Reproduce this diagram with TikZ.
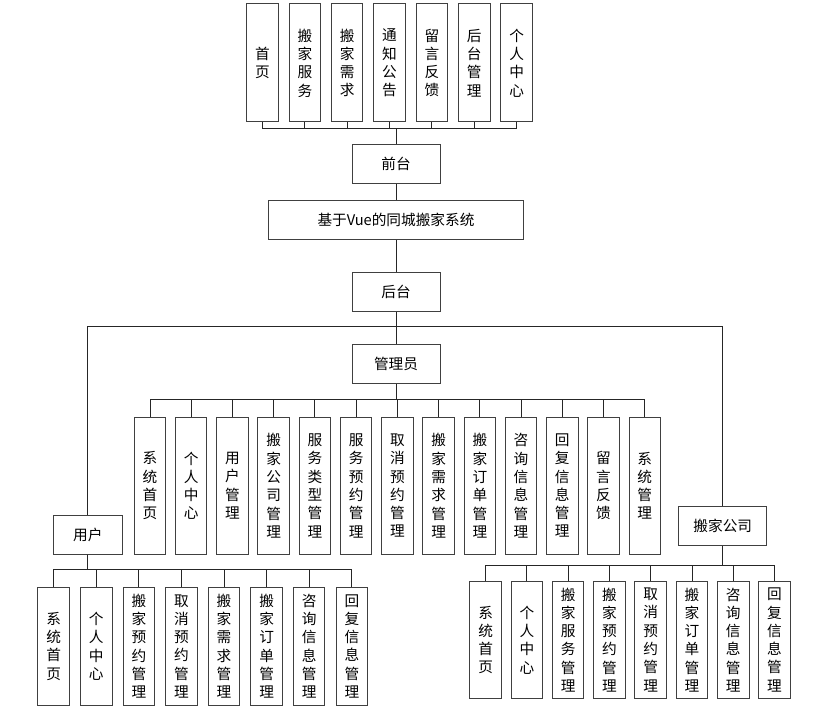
\documentclass[tikz,border=0pt]{standalone}
\usepackage{fontspec}
\newfontfamily\cjk{Noto Sans CJK SC}
\begin{document}
\begin{tikzpicture}[x=0.75pt,y=-0.75pt,
  every node/.style={font=\cjk\fontsize{11}{13.7}\selectfont, inner sep=0pt, align=center},
  hbox/.style={draw=black!75, line width=0.75pt, fill=white, minimum width=88*0.75pt, minimum height=39.3*0.75pt},
  tbox/.style={draw=black!75, line width=0.75pt, fill=white, minimum width=31.5*0.75pt, minimum height=118*0.75pt},
  abox/.style={draw=black!75, line width=0.75pt, fill=white, minimum width=31.5*0.75pt, minimum height=137*0.75pt},
  ubox/.style={draw=black!75, line width=0.75pt, fill=white, minimum width=31.5*0.75pt, minimum height=117.7*0.75pt},
  link/.style={draw=black!85, line width=0.75pt}]
\useasboundingbox (0,0) rectangle (829,713);

% top level
\node[hbox] (qt) at (396,164) {前台};
\node[draw=black!75, line width=0.75pt, minimum width=255.7*0.75pt, minimum height=39.3*0.75pt] (sys) at (396,220.3) {基于Vue的同城搬家系统};
\node[hbox] (ht) at (396,292.2) {后台};
\node[hbox] (gly) at (396,364.3) {管理员};
\node[hbox, minimum width=69*0.75pt] (yh) at (87.8,534.8) {用户};
\node[hbox, minimum width=88.3*0.75pt] (gs) at (722.8,526.2) {搬家公司};
\coordinate (hb) at (396,326.7);

% front children
\foreach \t [count=\i] in {{首\\页},{搬\\家\\服\\务},{搬\\家\\需\\求},{通\\知\\公\\告},{留\\言\\反\\馈},{后\\台\\管\\理},{个\\人\\中\\心}}{
  \node[tbox] (t\i) at ({262.5+(\i-1)*42.35},63) {\t};
  \draw[link] (qt.north) -- ++(0,-15.3) -| (t\i.south);
}

\draw[link] (qt.south) -- (sys.north);
\draw[link] (sys.south) -- (ht.north);
\draw[link] (ht.south) -- (gly.north);
\draw[link] (yh.north) |- (hb) -| (gs.north);

% admin children
\foreach \t [count=\i] in {{系\\统\\首\\页},{个\\人\\中\\心},{用\\户\\管\\理},{搬\\家\\公\\司\\管\\理},{服\\务\\类\\型\\管\\理},{服\\务\\预\\约\\管\\理},{取\\消\\预\\约\\管\\理},{搬\\家\\需\\求\\管\\理},{搬\\家\\订\\单\\管\\理},{咨\\询\\信\\息\\管\\理},{回\\复\\信\\息\\管\\理},{留\\言\\反\\馈},{系\\统\\管\\理}}{
  \node[abox] (a\i) at ({150+(\i-1)*41.23},485.8) {\t};
  \draw[link] (gly.south) -- ++(0,15) -| (a\i.north);
}

% user children
\foreach \t [count=\i] in {{系\\统\\首\\页},{个\\人\\中\\心},{搬\\家\\预\\约\\管\\理},{取\\消\\预\\约\\管\\理},{搬\\家\\需\\求\\管\\理},{搬\\家\\订\\单\\管\\理},{咨\\询\\信\\息\\管\\理},{回\\复\\信\\息\\管\\理}}{
  \node[ubox] (u\i) at ({53.7+(\i-1)*42.59},646.2) {\t};
  \draw[link] (yh.south) -- ++(0,14.9) -| (u\i.north);
}

% company children
\foreach \t [count=\i] in {{系\\统\\首\\页},{个\\人\\中\\心},{搬\\家\\服\\务\\管\\理},{搬\\家\\预\\约\\管\\理},{取\\消\\预\\约\\管\\理},{搬\\家\\订\\单\\管\\理},{咨\\询\\信\\息\\管\\理},{回\\复\\信\\息\\管\\理}}{
  \node[ubox] (c\i) at ({485.7+(\i-1)*41.26},639.9) {\t};
  \draw[link] (gs.south) -- ++(0,19.6) -| (c\i.north);
}
\end{tikzpicture}
\end{document}
